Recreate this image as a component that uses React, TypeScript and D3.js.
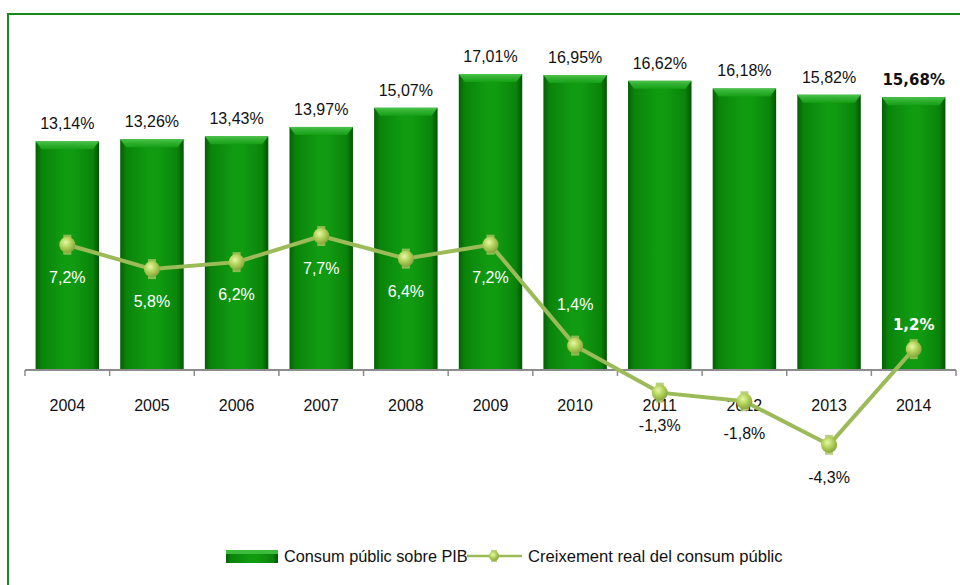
import React from 'react';
import * as d3 from 'd3';

const years = ['2004', '2005', '2006', '2007', '2008', '2009', '2010', '2011', '2012', '2013', '2014'];
// Consum públic sobre PIB (%)
const consumPib = [13.14, 13.26, 13.43, 13.97, 15.07, 17.01, 16.95, 16.62, 16.18, 15.82, 15.68];
// Creixement real del consum públic (%)
const creixement = [7.2, 5.8, 6.2, 7.7, 6.4, 7.2, 1.4, -1.3, -1.8, -4.3, 1.2];
// where the growth label sits relative to its marker
const growthLabelDy = [38, 38, 38, 38, 38, 38, -36, 38, 38, 38, -19];

const W = 960;
const H = 585;
const fmt = (v: number, d: number) => v.toFixed(d).replace('.', ',') + '%';
const FONT = '"Liberation Sans", Arial, sans-serif';
const BOLD_FONT = '"DejaVu Sans", Verdana, sans-serif';

const App: React.FC = () => {
  const x = d3.scaleBand<string>().domain(years).range([25, 956]).paddingInner(0.25).paddingOuter(0.125);
  const y = d3.scaleLinear().domain([-10, 20]).range([544, 22]);
  const y0 = y(0);
  const bw = x.bandwidth();
  const step = x.step();

  const line = d3.line<number>()
    .x((_, i) => (x(years[i]) ?? 0) + bw / 2)
    .y(d => y(d));

  const last = years.length - 1;

  return (
    <svg width={W} height={H} style={{ position: 'absolute', left: 0, top: 0, background: '#fff' }}>
      <defs>
        <linearGradient id="barH" x1="0" x2="1" y1="0" y2="0">
          <stop offset="0%" stopColor="#055f05" />
          <stop offset="10%" stopColor="#0a840a" />
          <stop offset="45%" stopColor="#119b11" />
          <stop offset="60%" stopColor="#119b11" />
          <stop offset="90%" stopColor="#0a840a" />
          <stop offset="100%" stopColor="#045404" />
        </linearGradient>
        <linearGradient id="bevel" x1="0" x2="0" y1="0" y2="1">
          <stop offset="0%" stopColor="#4cc44c" />
          <stop offset="35%" stopColor="#35b335" />
          <stop offset="100%" stopColor="#15a015" />
        </linearGradient>
        <radialGradient id="marker" cx="0.4" cy="0.35" r="0.7">
          <stop offset="0%" stopColor="#e6f7a8" />
          <stop offset="45%" stopColor="#b5d45c" />
          <stop offset="100%" stopColor="#7f9f37" />
        </radialGradient>
      </defs>

      {/* frame */}
      <rect x={8} y={14} width={W} height={H} fill="none" stroke="#17891b" strokeWidth={2} />

      {/* bars */}
      {consumPib.map((v, i) => {
        const bx = x(years[i]) ?? 0;
        const by = y(v);
        const bh = y0 - by;
        return (
          <g key={years[i]}>
            <rect x={bx} y={by} width={bw} height={bh} fill="url(#barH)" />
            <polygon
              points={`${bx},${by} ${bx + bw},${by} ${bx + bw - 6},${by + 8} ${bx + 6},${by + 8}`}
              fill="url(#bevel)"
            />
            <text
              x={bx + bw / 2}
              y={by - 12}
              textAnchor="middle"
              fontFamily={i === last ? BOLD_FONT : FONT}
              fontWeight={i === last ? 'bold' : 'normal'}
              fontSize={i === last ? 15 : 16}
              fill="#111"
            >
              {fmt(v, 2)}
            </text>
          </g>
        );
      })}

      {/* category axis */}
      <line x1={x.range()[0]} x2={x.range()[1]} y1={y0} y2={y0} stroke="#8c8c8c" strokeWidth={2} />
      {d3.range(years.length + 1).map(i => {
        const tx = x.range()[0] + i * step;
        return <line key={i} x1={tx} x2={tx} y1={y0} y2={y0 + 6} stroke="#8c8c8c" strokeWidth={1.5} />;
      })}
      {years.map(yr => (
        <text key={yr} x={(x(yr) ?? 0) + bw / 2} y={y0 + 41} textAnchor="middle" fontFamily={FONT} fontSize={16} fill="#111">
          {yr}
        </text>
      ))}

      {/* growth line */}
      <path d={line(creixement) ?? ''} fill="none" stroke="#9bbb59" strokeWidth={4} strokeLinejoin="round" />
      {creixement.map((v, i) => {
        const cx = (x(years[i]) ?? 0) + bw / 2;
        const cy = y(v);
        const dy = growthLabelDy[i];
        const inside = v > 0;
        return (
          <g key={'m' + i}>
            <rect x={cx - 4} y={cy - 10} width={8} height={20} fill="#a9c463" opacity={0.8} />
            <circle cx={cx} cy={cy} r={8} fill="url(#marker)" />
            <text
              x={cx}
              y={cy + dy}
              textAnchor="middle"
              fontFamily={i === last ? BOLD_FONT : FONT}
              fontWeight={i === last ? 'bold' : 'normal'}
              fontSize={i === last ? 15 : 16}
              fill={inside ? '#ffffff' : '#111'}
            >
              {fmt(v, 1)}
            </text>
          </g>
        );
      })}

      {/* legend */}
      <g>
        <rect x={226} y={550} width={52} height={13} fill="url(#barH)" />
        <rect x={226} y={550} width={52} height={4} fill="#3cbc3c" />
        <text x={284} y={562} fontFamily={FONT} fontSize={16.3} fill="#111">Consum públic sobre PIB</text>
        <line x1={467} x2={522} y1={556} y2={556} stroke="#9bbb59" strokeWidth={2.5} />
        <rect x={491} y={550} width={6} height={12} fill="#a9c463" opacity={0.8} />
        <circle cx={494} cy={556} r={5} fill="url(#marker)" />
        <text x={528} y={562} fontFamily={FONT} fontSize={16.6} fill="#111">Creixement real del consum públic</text>
      </g>
    </svg>
  );
};

export default App;
